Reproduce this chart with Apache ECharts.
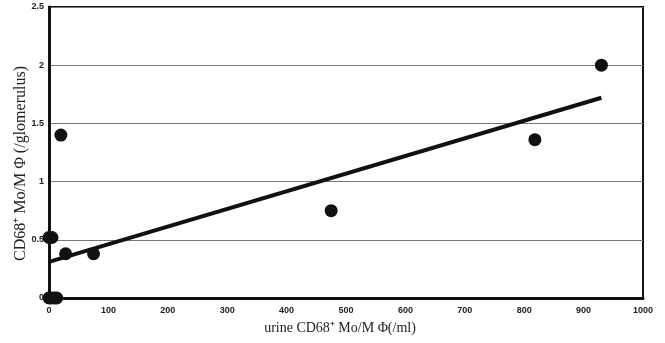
<!DOCTYPE html>
<html>
<head>
<meta charset="utf-8">
<script src="https://cdn.jsdelivr.net/npm/echarts@6/dist/echarts.min.js"></script>
<style>
  html, body { margin: 0; padding: 0; background: #fff; }
  #chart { width: 665px; height: 343px; }
</style>
</head>
<body>
<div id="chart"></div>
<script>
// urine CD68+ Mo/MΦ (/ml) vs glomerular CD68+ Mo/MΦ
const urineCounts = [0, 4, 9, 13, 0, 5, 20, 28, 75, 475, 818, 930];
const glomCounts = [0, 0, 0, 0, 0.52, 0.52, 1.4, 0.38, 0.38, 0.75, 1.36, 2.0];
// regression line end points
const fitX = [0, 930];
const fitY = [0.31, 1.72];
const yTicks = ['0', '0.5', '1', '1.5', '2', '2.5'];

const chart = echarts.init(document.getElementById('chart'));

const option = {
  backgroundColor: '#fff',
  animation: false,
  grid: { left: 49, right: 22, top: 7, bottom: 45, show: true, borderColor: '#111', borderWidth: 2 },
  xAxis: {
    type: 'value',
    min: 0,
    max: 1000,
    interval: 100,
    name: 'urine CD68\u207A Mo/M \u03A6(/ml)',
    nameLocation: 'middle',
    nameGap: 23,
    nameMoveOverlap: false,
    nameTextStyle: { fontFamily: 'Liberation Serif', fontSize: 14, color: '#222', padding: [0, 12, 0, 0] },
    axisLine: { show: true, lineStyle: { color: '#111', width: 3 } },
    axisTick: { show: false },
    axisLabel: {
      fontFamily: 'Liberation Sans', fontSize: 9, fontWeight: 'bold', color: '#222', margin: 8,
      formatter: (v) => String(v)
    },
    splitLine: { show: false }
  },
  yAxis: {
    type: 'value',
    min: 0,
    max: 2.5,
    interval: 0.5,
    name: 'CD68\u207A Mo/M \u03A6 (/glomerulus)',
    nameLocation: 'middle',
    nameGap: 20,
    nameMoveOverlap: false,
    nameTextStyle: { fontFamily: 'Liberation Serif', fontSize: 16, color: '#222', padding: [0, 22, 0, 0] },
    axisLine: { show: true, lineStyle: { color: '#111', width: 3 } },
    axisTick: { show: false },
    axisLabel: {
      fontFamily: 'Liberation Sans', fontSize: 9, fontWeight: 'bold', color: '#222', margin: 5,
      formatter: (v) => yTicks[Math.round(v * 2)]
    },
    splitLine: { show: true, lineStyle: { color: '#777', width: 1 } }
  },
  series: [
    {
      type: 'line',
      data: fitX.map((x, i) => [x, fitY[i]]),
      showSymbol: false,
      lineStyle: { color: '#111', width: 4 },
      z: 3
    },
    {
      type: 'scatter',
      data: urineCounts.map((x, i) => [x, glomCounts[i]]),
      symbol: 'circle',
      symbolSize: 13,
      itemStyle: { color: '#111', opacity: 1 },
      z: 4
    }
  ]
};

chart.setOption(option);
</script>
</body>
</html>
